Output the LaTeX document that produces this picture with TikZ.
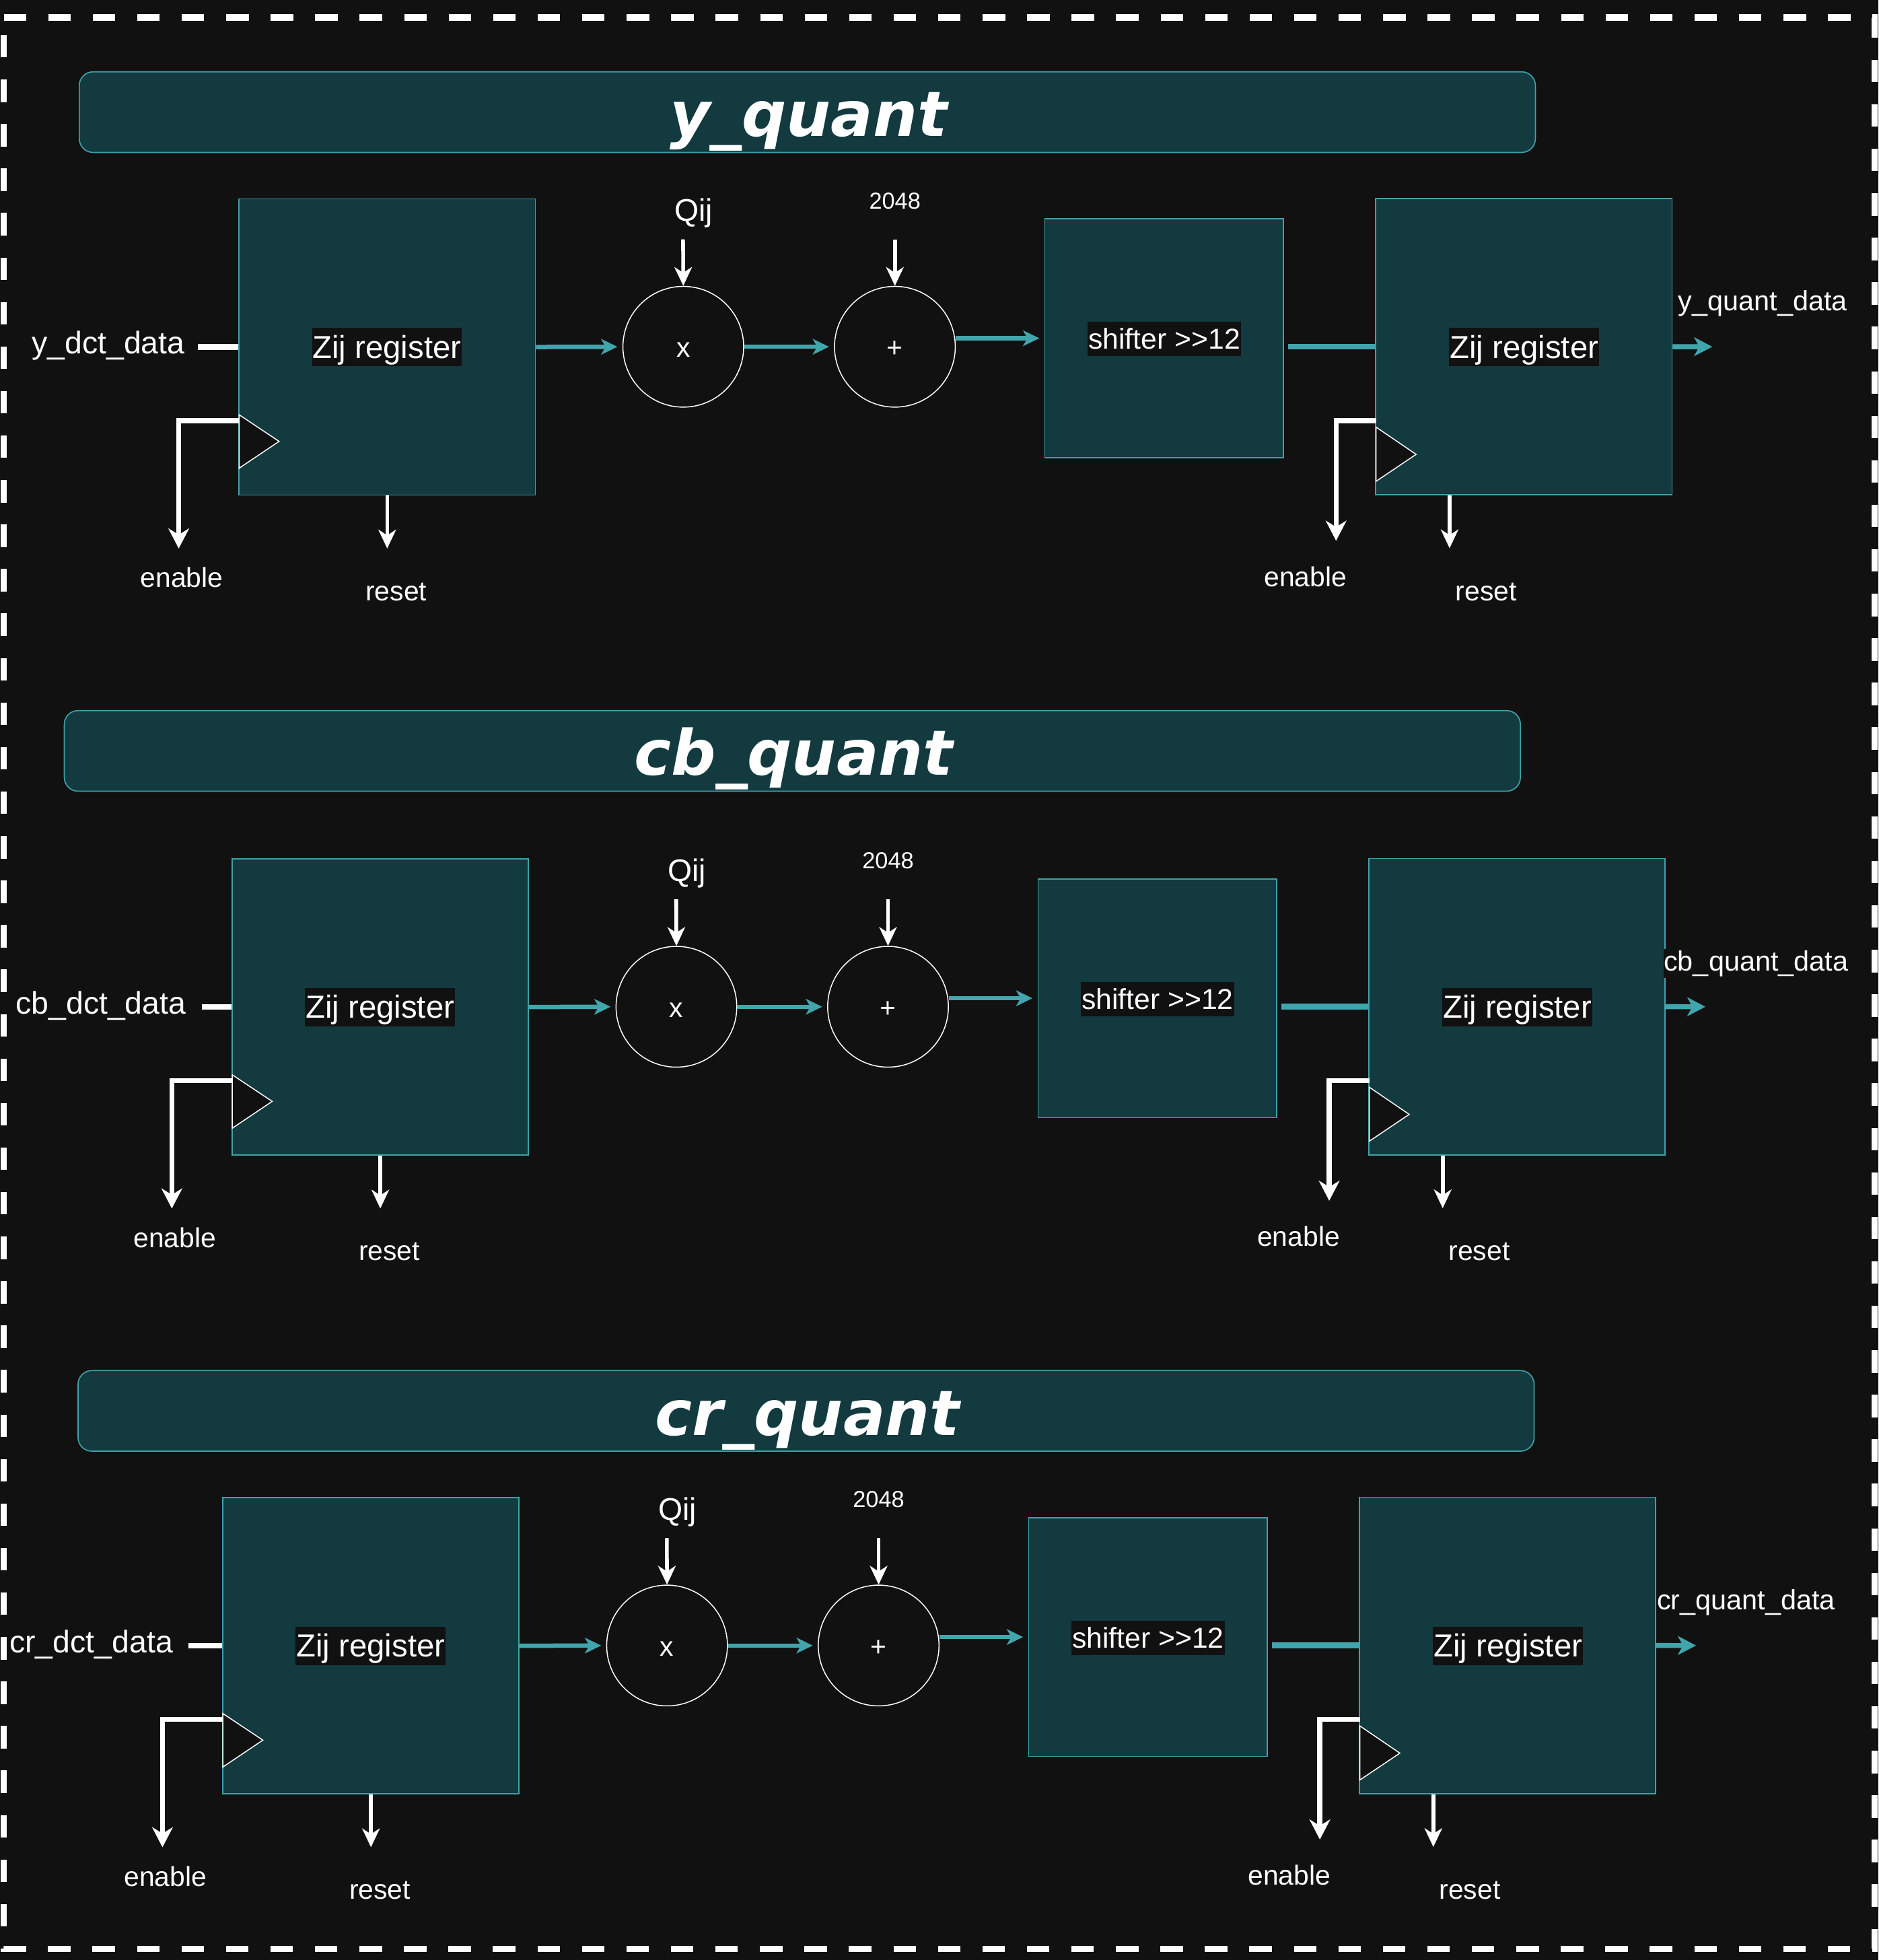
\documentclass[tikz,border=0pt]{standalone}
\usepackage{fontspec}
\setmainfont{Liberation Sans}
\newfontfamily\headfont{DejaVu Sans}
\usetikzlibrary{arrows.meta,calc}

\definecolor{pagebg}{HTML}{111111}
\definecolor{blockfill}{HTML}{123A3F}
\definecolor{blockline}{HTML}{3FA2A8}
\definecolor{signal}{HTML}{41A5AC}

\tikzset{
  block/.style={draw=blockline, line width=0.9pt, fill=blockfill, inner sep=0pt},
  regbox/.style={block, minimum width=237pt, minimum height=237pt},
  shiftbox/.style={block, minimum width=191pt, minimum height=191pt},
  titlebar/.style={draw=blockline, line width=0.9pt, fill=blockfill, rounded corners=11pt,
    minimum width=1165pt, minimum height=64.5pt, inner sep=0pt},
  titletext/.style={text=white, inner sep=0pt, font=\headfont\bfseries\itshape\fontsize{50}{60}\selectfont},
  optext/.style={circle, draw=white, line width=0.8pt, minimum size=96.6pt, inner sep=0pt,
    text=white, text height=17pt, text depth=0pt, font=\fontsize{22}{26}\selectfont},
  zijtag/.style={fill=pagebg, text=white, inner xsep=0.5pt, inner ysep=1.1pt,
    text height=23.1pt, text depth=5.4pt, font=\fontsize{25.5}{30}\selectfont},
  shifttag/.style={fill=pagebg, text=white, inner xsep=0.5pt, inner ysep=0.9pt,
    text height=20.8pt, text depth=4.9pt, font=\fontsize{23}{27}\selectfont},
  pinlabel/.style={text=white, inner sep=0pt, anchor=base, font=\fontsize{22}{26}\selectfont},
  portlabel/.style={text=white, inner sep=0pt, font=\fontsize{25}{30}\selectfont},
  outlabel/.style={text=white, fill=pagebg, inner xsep=0pt, inner ysep=1pt, anchor=base west,
    font=\fontsize{22.3}{26}\selectfont},
  qlabel/.style={text=white, inner sep=0pt, anchor=base, font=\fontsize{25}{30}\selectfont},
  klabel/.style={text=white, inner sep=0pt, anchor=base, font=\fontsize{18.5}{22}\selectfont},
  sig/.style={draw=signal, line width=3.5pt, shorten >=4pt,
    -{Stealth[length=13pt, width=12.5pt, inset=3.5pt]}},
  sigout/.style={draw=signal, line width=4pt,
    -{Stealth[length=14.5pt, width=15pt, inset=4pt]}},
  sigline/.style={draw=signal, line width=4.6pt},
  datain/.style={draw=white, line width=4.6pt},
  enarrow/.style={draw=white, line width=4pt,
    -{Stealth[length=16pt, width=16.5pt, inset=5pt]}},
  pinarrow/.style={draw=white, line width=3pt,
    -{Stealth[length=15pt, width=14pt, inset=4.5pt]}},
  clock/.style={fill=pagebg, draw=white, line width=0.8pt, line join=miter},
}

\begin{document}
\begin{tikzpicture}[x=1pt, y=-1pt]
  % page and outer dashed frame
  \fill[pagebg] (0,0) rectangle (1503,1568);
  \useasboundingbox (0,0) rectangle (1503,1568);
  \draw[white, line width=5pt, dash pattern=on 18pt off 17.6pt]
    (3,14) -- (1500,14) -- (1500,1559) -- (3,1559) -- cycle;

  % one quantiser stage per colour component
  \foreach \p/\dx/\dy/\bx/\by/\ie/\il/\ox in {
      y/0/0/63/57/148/158.5/1342.6,
      cb/-5.5/528/51/568/154.5/167/1336.5,
      cr/-13/1039/62/1096/151.5/163.5/1338.5} {

    % heading bar
    \node[titlebar, anchor=north west] (\p-bar) at (\bx,\by) {};
    \node[titletext, anchor=base] (\p-title) at (\bx+584,\by+52.3) {\p\_quant};

    \begin{scope}[shift={(\dx,\dy)}]
      % blocks
      \node[regbox] (\p-reg1) at (309.8,277.6) {};
      \node[zijtag] (\p-tag1) at (309.6,277.8) {Zij register};
      \node[optext] (\p-mul) at (546.7,277.4) {x};
      \node[optext] (\p-add) at (716,277.4) {+};
      \node[shiftbox] (\p-shift) at (931.5,270.6) {};
      \node[shifttag] (\p-stag) at (931.6,271.3) {shifter >{}>12};
      \node[regbox] (\p-reg2) at (1219.25,277.35) {};
      \node[zijtag] (\p-tag2) at (1219.5,277.8) {Zij register};

      % clock inputs
      \filldraw[clock] (191.3,331.8) -- (223.3,353.1) -- (191.3,374.6) -- cycle;
      \filldraw[clock] (1101,341.7) -- (1133,363.5) -- (1101,385) -- cycle;

      % data input
      \node[portlabel, anchor=base east] (\p-inlbl) at (\ie,283) {\p\_dct\_data};
      \coordinate (\p-in) at (\il,277.6);
      \draw[datain] (\p-in) -- (\p-reg1.west);

      % constants
      \node[qlabel] (\p-qlbl) at (555,177) {Qij};
      \node[klabel] (\p-klbl) at (716,167) {2048};
      \coordinate (\p-qin) at (546.5,191.5);
      \coordinate (\p-kin) at (716,191.5);
      \draw[pinarrow] (\p-qin) -- (\p-mul.north);
      \draw[pinarrow] (\p-kin) -- (\p-add.north);

      % datapath
      \draw[sig] (\p-reg1.east) -- (\p-mul.west);
      \draw[sig] (\p-mul.east) -- (\p-add.west);
      \draw[sig] (\p-add.east |- \p-shift.west) -- (\p-shift.west);
      \draw[sigline] ([xshift=3pt]\p-shift.east |- \p-reg2.west) -- (\p-reg2.west);
      \coordinate (\p-out) at (1370,277.4);
      \draw[sigout] (\p-reg2.east) -- (\p-out);
      \node[outlabel] (\p-outlbl) at (\ox,248.6) {\p\_quant\_data};

      % control pins of the first register
      \coordinate (\p-ck1) at (191.3,336.6);
      \coordinate (\p-en1) at (143,438.8);
      \coordinate (\p-rs1) at (309.8,438.8);
      \draw[enarrow] (\p-ck1) -| (\p-en1);
      \draw[pinarrow] (\p-reg1.south) -- (\p-rs1);
      \node[pinlabel] (\p-enlbl1) at (145.4,470) {enable};
      \node[pinlabel] (\p-rslbl1) at (317,480.5) {reset};

      % control pins of the second register
      \coordinate (\p-ck2) at (1101,336.6);
      \coordinate (\p-en2) at (1069,432.6);
      \coordinate (\p-rs2) at (1159.8,438.6);
      \draw[enarrow] (\p-ck2) -| (\p-en2);
      \draw[pinarrow] (\p-reg2.south -| \p-rs2) -- (\p-rs2);
      \node[pinlabel] (\p-enlbl2) at (1044.5,469) {enable};
      \node[pinlabel] (\p-rslbl2) at (1189,480.5) {reset};
    \end{scope}
  }
\end{tikzpicture}
\end{document}
